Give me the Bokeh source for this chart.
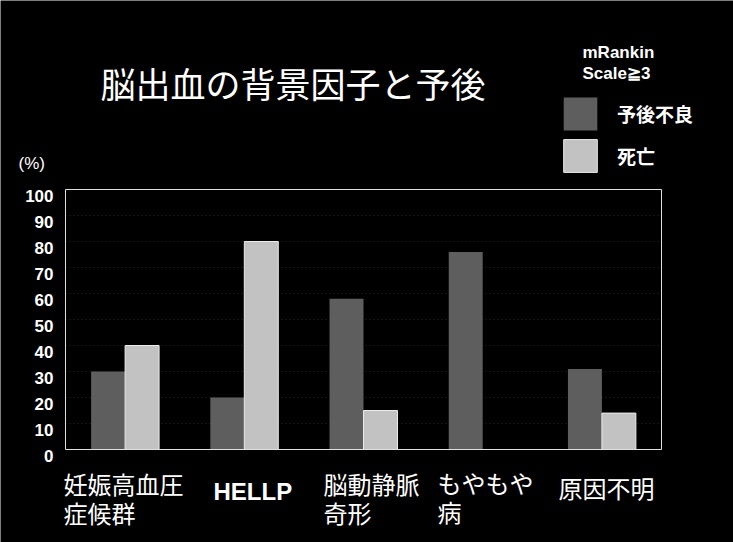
from bokeh.plotting import figure
from bokeh.models import Range1d, Label, Legend, LegendItem, ColumnDataSource
from bokeh.core.properties import value
from bokeh.transform import dodge
from bokeh.embed import file_html
from bokeh.resources import INLINE

# ---- data ----
categories = ["妊娠高血圧\n症候群", "HELLP", "脳動静脈\n奇形", "もやもや\n病", "原因不明"]
poor_outcome = [30, 20, 58, 76, 31]   # 予後不良
death = [40, 80, 15, 0, 14]           # 死亡
y_ticks = [0, 10, 20, 30, 40, 50, 60, 70, 80, 90, 100]
series_names = ["予後不良", "死亡"]
title_text = "脳出血の背景因子と予後"
legend_title = ["mRankin", "Scale≧3"]
unit_text = "(%)"

CJK = "Noto Sans CJK JP"
LAT = "Liberation Sans"

# ---- layout (canvas pixels) ----
W, H = 733, 542
BOX_L, BOX_R, BOX_T, BOX_B = 65, 661, 189, 449   # plotting box edges
n = len(categories)
ymax = y_ticks[-1]
ppx_x = (BOX_R - BOX_L) / n          # px per category
ppx_y = (BOX_B - BOX_T) / ymax       # px per percent

x_range = Range1d(-0.5 - BOX_L / ppx_x, n - 0.5 + (W - BOX_R) / ppx_x)
y_range = Range1d(-(H - BOX_B) / ppx_y, ymax + BOX_T / ppx_y)

p = figure(width=W, height=H, x_range=x_range, y_range=y_range,
           output_backend="svg", toolbar_location=None,
           x_axis_location=None, y_axis_location=None,
           min_border=0, min_border_left=0, min_border_right=0,
           min_border_top=0, min_border_bottom=0)
p.background_fill_color = "black"
p.border_fill_color = "black"
p.outline_line_color = None
p.grid.visible = False

xs = list(range(n))
src = ColumnDataSource(dict(x=xs, poor=poor_outcome, death=death))
bw = 0.285

# faint dotted grid
inner = [t for t in y_ticks if 0 < t < ymax]
p.segment(x0=[-0.5] * len(inner), x1=[n - 0.5] * len(inner), y0=inner, y1=inner,
          line_color="#262626", line_dash="1 3", line_width=1)

r1 = p.vbar(x=dodge("x", -bw / 2), top="poor", width=bw, source=src,
            fill_color="#5e5e5e", line_color=None)
r2 = p.vbar(x=dodge("x", bw / 2), top="death", width=bw, source=src,
            fill_color="#c2c2c2", line_color="#ececec", line_width=1)

# plotting box
p.quad(left=[-0.5], right=[n - 0.5], bottom=[0], top=[ymax], fill_color=None,
       line_color="#e0e0e0", line_width=1)

# y tick labels
p.text(x=[-0.5] * len(y_ticks), y=y_ticks, text=[str(t) for t in y_ticks],
       x_offset=-12, y_offset=6, text_align="right", text_baseline="middle",
       text_color="white", text_font=value(LAT), text_font_style="bold",
       text_font_size="17px")

def add_text(x, y, text, size, font, style="normal", align="left"):
    p.add_layout(Label(x=x, y=H - y, x_units="screen", y_units="screen", text=text,
                       text_color="white", text_font=font, text_font_size=size,
                       text_font_style=style, text_align=align, text_baseline="middle"))

# category labels (left-aligned, as placed in the reference)
label_left = [63, 213, 323, 437, 558]
label_first_line = [483, 491, 483, 482, 487]
for cat, lx, ly in zip(categories, label_left, label_first_line):
    lines = cat.split("\n")
    if len(lines) == 1 and cat.isascii():
        add_text(lx, ly, cat, "24px", LAT, "bold")
    else:
        for i, line in enumerate(lines):
            add_text(lx, ly + 28.5 * i, line, "24px", CJK)

add_text(100, 82, title_text, "35px", CJK)
add_text(18, 163, unit_text, "17px", LAT)
add_text(582, 52, legend_title[0], "17px", LAT, "bold")
add_text(582, 73, legend_title[1], "17px", LAT, "bold")

legend = Legend(items=[LegendItem(label=series_names[0], renderers=[r1]),
                       LegendItem(label=series_names[1], renderers=[r2])],
                location=(559, H - 176), orientation="vertical",
                glyph_width=42, glyph_height=41, spacing=1, label_standoff=16,
                padding=0, margin=0, border_line_color=None,
                background_fill_alpha=0, label_text_color="white",
                label_text_font=CJK, label_text_font_style="bold",
                label_text_font_size="19px")
p.add_layout(legend)

open("out.html", "w").write(file_html(p, INLINE))
